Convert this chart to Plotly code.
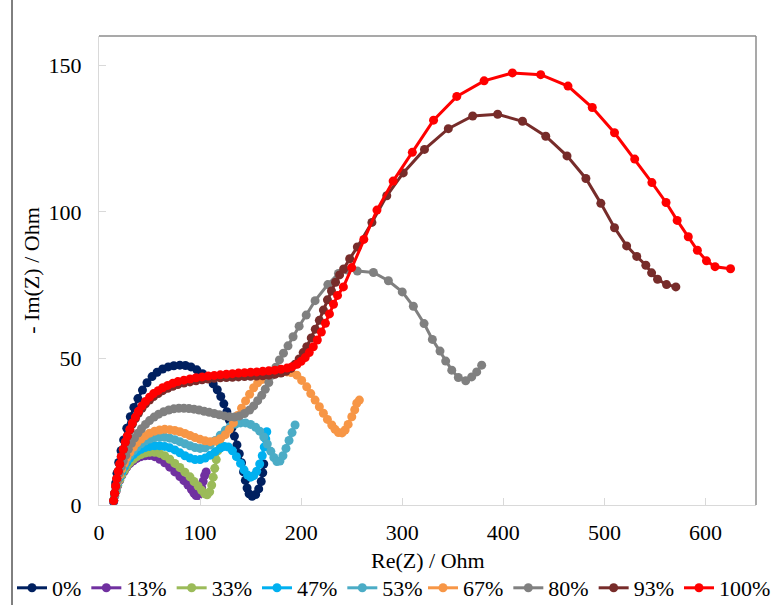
import plotly.graph_objects as go

# Nyquist data: Re(Z) and -Im(Z) in Ohm for each composition
labels = ["0%", "13%", "33%", "47%", "53%", "67%", "80%", "93%", "100%"]
colors = ["#002060", "#7030A0", "#9BBB59", "#00B0F0", "#4BACC6",
          "#F79646", "#808080", "#772C2A", "#FF0000"]

re_0 = [14.4, 15.5, 16.5, 17.8, 19.5, 21.8, 24.4, 27.5, 31, 34.5, 38.5, 43, 47.5, 52.5, 57.5, 63, 68.5, 74, 80,
        85.5, 91, 96.8, 102.5, 108.4, 113, 117, 120.5, 123.5, 126.5, 129, 131.5, 134, 136.5, 138.8, 141, 143,
        144.8, 146.5, 148.5, 151.5, 155, 158, 160.5, 162, 163]
im_0 = [1.1, 4, 7.5, 10.8, 14.5, 18.5, 22.2, 26.2, 30.1, 33.3, 36.3, 39.2, 41.7, 43.8, 45.3, 46.4, 47.1, 47.5, 47.7,
        47.6, 47.1, 46.1, 44.8, 43.2, 41.3, 39.3, 37, 34.5, 31.8, 29, 26.3, 23.5, 20.5, 17.5, 14.4, 11.3,
        8.4, 5.8, 3.8, 3, 3.6, 5.5, 8, 11, 14]

re_13 = [14.5, 15.5, 17, 18.5, 20.5, 22.5, 25, 27.5, 30.5, 34, 37.5, 41.5, 45.5, 50, 55, 60, 65, 70, 75, 80, 84,
         88, 91.5, 94, 96, 98, 100, 101.5, 103, 104.5, 106]
im_13 = [1.2, 3, 4.8, 6.6, 8.4, 10, 11.5, 12.9, 14.1, 15.1, 15.9, 16.5, 16.8, 16.9, 16.5, 15.6, 14.4, 12.9, 11.3,
         9.7, 8.3, 6.8, 5.3, 4, 3.2, 3.2, 4.2, 6, 8, 10, 11.3]

re_33 = [14.5, 15.5, 17, 18.5, 20.5, 22.5, 25, 27.5, 30.5, 34, 37.5, 41.5, 45.5, 50, 55, 60, 65, 70, 75, 80, 85,
         90, 94, 98, 101.5, 104.5, 107, 109.5, 111.5, 113, 114.5, 116, 117.5, 119, 120.5]
im_33 = [1.5, 3.2, 5, 6.8, 8.6, 10.2, 11.8, 13.2, 14.5, 15.6, 16.5, 17.2, 17.7, 18, 18, 17.6, 16.8, 15.6, 14.2,
         12.8, 11.2, 9.6, 8, 6.5, 5, 3.8, 3.5, 4.5, 6.8, 9.5, 12.5, 15.5, 18.5, 21.2, 23]

re_47 = [14.5, 15.5, 17, 18.5, 20.5, 22.5, 25, 27.5, 30.5, 34, 37.5, 41.5, 45.5, 50, 55, 60, 65, 70, 75, 80, 85,
         90, 95, 100, 105, 110, 115, 120, 124, 128, 132, 136, 140, 143.5, 147, 150, 153, 156, 159, 161.5, 163.5,
         165, 166]
im_47 = [1.5, 3.5, 5.5, 7.5, 9.5, 11.3, 13, 14.6, 16, 17.2, 18.2, 19, 19.6, 20, 20.2, 20.2, 20, 19.5, 18.8, 17.8,
         16.8, 16, 15.5, 15.5, 16, 17, 18.2, 19.4, 20, 19.8, 18.5, 16.5, 14.2, 12, 10.2, 9.5, 10, 11.5, 14, 16.8,
         19.8, 22.5, 25]

re_53 = [14.5, 15.5, 17, 18.5, 20.5, 22.5, 25, 27.5, 30.5, 34, 37.5, 41.5, 45.5, 50, 55, 60, 65, 70, 75, 80, 85,
         90, 95, 100, 105, 110, 115, 120, 125, 130, 135, 140, 145, 150, 155, 159, 163, 166.5, 170, 173, 176, 179,
         182, 185, 188, 191, 194]
im_53 = [1.5, 3.5, 5.8, 8, 10, 12, 13.8, 15.5, 17, 18.5, 19.8, 20.9, 21.8, 22.5, 23, 23.2, 23.1, 22.8, 22.3, 21.6,
         20.9, 20.2, 19.6, 19.3, 19.5, 20.5, 22, 23.8, 25.5, 26.8, 27.6, 28, 28, 27.5, 26.5, 25.2, 23.2, 20.8,
         18.3, 16.2, 14.8, 15, 16.8, 19.3, 22, 24.7, 27.3]

re_67 = [14.5, 15.5, 17, 18.5, 20.5, 22.5, 25, 27.5, 30.5, 34, 37.5, 41.5, 45.5, 50, 55, 60, 65, 70, 75, 80, 85,
         90, 95, 100, 105, 110, 115, 120, 125, 129, 133, 137, 141, 145, 149, 153, 157, 161, 166, 171, 176, 181,
         186, 190, 195.7, 200.5, 205.5, 209.5, 213.8, 218, 222, 226, 230.3, 233.5, 236.9, 240.5, 243.5, 246.5,
         250.1, 253, 255, 257.6]
im_67 = [1.5, 3.5, 5.8, 8, 10.2, 12.3, 14.3, 16.2, 18, 19.7, 21.2, 22.5, 23.6, 24.5, 25.2, 25.6, 25.8, 25.7, 25.4,
         25, 24.4, 23.7, 23, 22.4, 21.9, 21.6, 21.8, 22.6, 24, 25.8, 28, 30.5, 33, 35.5, 37.8, 40, 41.7, 42.8,
         43.8, 44.5, 45, 45.3, 45.4, 45.2, 44.3, 42.5, 40.3, 38, 35.8, 33.5, 31.3, 29.2, 27.3, 25.8, 24.7, 24.6,
         25.6, 27.5, 30.1, 32.5, 34.7, 35.8]

re_80 = [14.5, 15.5, 17, 18.5, 20, 22, 24, 26.5, 29, 32, 35, 38.5, 42, 46, 50, 54.5, 59, 64, 69, 74, 79, 84, 89,
         94, 99, 104, 109, 114, 119, 124, 129, 134, 139, 144, 149, 153, 157, 161, 164.5, 168, 171.5, 175, 178.5,
         182.5, 187, 192, 198, 205, 213.8, 226.4, 236.9, 245, 255.6, 271.5, 286.3, 300, 311, 321.6, 329.8,
         337.4, 343, 349, 355.5, 362.8, 368.7, 373.7, 378.6]
im_80 = [1.5, 3.5, 6, 8.5, 10.8, 13, 15, 17, 19, 21, 22.8, 24.5, 26, 27.5, 28.8, 30, 31, 31.8, 32.4, 32.8, 33, 33,
         32.9, 32.7, 32.4, 32, 31.6, 31.2, 30.8, 30.4, 30.1, 30, 30.4, 31.2, 32.4, 33.8, 35.6, 37.4, 39.5, 41.8,
         44.3, 47, 49.5, 51.8, 54.3, 57.4, 61, 64.8, 69.7, 75.2, 79, 80.2, 79.8, 79.3, 76.5, 72.7, 67.8, 61.9,
         56.5, 52.5, 49.1, 46, 43.5, 42.4, 43.7, 45.4, 47.7]

re_93 = [14.5, 15.5, 16.5, 17.5, 19, 20.5, 22, 24, 26, 28, 30.5, 33, 36, 39, 42.5, 46, 50, 54, 58.5, 63, 68, 73,
         78, 84, 90, 96, 102, 108, 114, 120, 126, 132, 138, 144, 150, 156, 162, 168, 174, 180, 185, 190, 194,
         198, 202, 205.6, 210, 214, 218, 222, 226, 230, 234, 238, 242, 248, 255.6, 270, 284.7, 301, 322, 345.6,
         369.7, 394.4, 419, 442, 463, 481.7, 496.5, 510, 522, 532, 541, 546.7, 552.6, 561.5, 570.7]
im_93 = [1.5, 4, 6.5, 9, 11.5, 14, 16.5, 19, 21.5, 23.5, 25.6, 27.6, 29.5, 31.3, 33, 34.5, 35.8, 37, 38, 39, 39.8,
         40.5, 41.1, 41.6, 42, 42.4, 42.7, 43, 43.2, 43.4, 43.5, 43.6, 43.7, 43.8, 43.9, 44, 44.1, 44.3, 44.6,
         45, 45.6, 46.6, 48, 49.8, 52, 54, 57, 60, 63, 66.5, 70, 73, 76, 78.5, 80.5, 84, 88, 96.4, 105.5, 113.3,
         121.3, 128.4, 132.7, 133.3, 130.9, 125.8, 119.1, 111.4, 102.9, 94.6, 88.4, 84.8, 81.8, 79.2, 77, 75.2,
         74.4]

re_100 = [14.5, 15.5, 16.5, 17.5, 19, 20.5, 22, 24, 26, 28, 30.5, 33, 36, 39, 42.5, 46, 50, 54, 58.5, 63, 68, 73,
          78, 84, 90, 96, 102, 108, 114, 120, 126, 132, 138, 144, 150, 156, 162, 168, 174, 180, 186, 191, 196,
          200, 204, 208, 212, 216, 220, 224, 228, 232, 236, 241.8, 250, 262, 275, 291, 310, 331, 354, 381, 409,
          437, 464, 488, 510, 530, 547, 561, 572, 583, 592, 601, 609.5, 624.8]
im_100 = [1.5, 4, 6.5, 9, 11.5, 14, 16.5, 19, 21.5, 23.5, 25.8, 28, 30, 32, 33.8, 35.3, 36.8, 38, 39, 40, 40.8,
          41.5, 42.1, 42.6, 43, 43.4, 43.7, 44, 44.2, 44.4, 44.6, 44.8, 45, 45.1, 45.3, 45.4, 45.6, 45.8, 46,
          46.3, 46.7, 47.2, 48, 49, 50.3, 52, 54, 56.3, 59, 62, 65.2, 68.5, 71.5, 74.4, 81, 90.6, 100.6, 110.5,
          120.3, 131.3, 139.4, 144.7, 147.4, 146.8, 142.9, 135.6, 127, 118, 110, 103.2, 97.1, 91.5, 86.9, 83.3,
          81.3, 80.6]

re_series = [re_0, re_13, re_33, re_47, re_53, re_67, re_80, re_93, re_100]
im_series = [im_0, im_13, im_33, im_47, im_53, im_67, im_80, im_93, im_100]

x_ticks = [0, 100, 200, 300, 400, 500, 600]
y_ticks = [0, 50, 100, 150]

FONT = "Liberation Serif"
AXIS_GREY = "#d9d9d9"
FRAME_GREY = "#8c8c8c"
FIG_W, FIG_H = 782, 605

# plot area in pixels: x 99..756, y 36..505
PLOT_W = 657
PLOT_H = 469

fig = go.Figure()
for i, (name, color, xs, ys) in enumerate(zip(labels, colors, re_series, im_series)):
    fig.add_trace(go.Scatter(
        x=xs, y=ys, name=name, mode="lines+markers",
        line=dict(color=color, width=3),
        marker=dict(color=color, size=9),
        # the legend row is split over two legend boxes laid side by side
        legend="legend" if i < 5 else "legend2",
    ))

legend_common = dict(
    orientation="h", xref="container", yref="container",
    xanchor="left", y=17 / FIG_H, yanchor="middle",
    bgcolor="rgba(0,0,0,0)",
    font=dict(family=FONT, size=22, color="black"),
    itemclick=False, tracegroupgap=0,
)

fig.update_layout(
    width=FIG_W, height=FIG_H,
    margin=dict(l=99, r=26, t=36, b=100),
    paper_bgcolor="white", plot_bgcolor="white",
    font=dict(family=FONT, size=22, color="black"),
    showlegend=True,
    legend=dict(x=12 / FIG_W, **legend_common),
    legend2=dict(x=423 / FIG_W, **legend_common),
    xaxis=dict(
        range=[0, 650], tickvals=x_ticks, ticktext=[str(v) for v in x_ticks],
        showgrid=False, zeroline=False, automargin=False,
        showline=True, linecolor=AXIS_GREY, linewidth=1,
        ticks="inside", ticklen=7, tickcolor=AXIS_GREY,
        ticklabelstandoff=8,
        tickfont=dict(family=FONT, size=22, color="black"),
    ),
    yaxis=dict(
        range=[0, 160], tickvals=y_ticks, ticktext=[str(v) for v in y_ticks],
        showgrid=False, zeroline=False, automargin=False,
        showline=True, linecolor=AXIS_GREY, linewidth=1,
        ticks="inside", ticklen=7, tickcolor=AXIS_GREY,
        ticklabelstandoff=12,
        tickfont=dict(family=FONT, size=22, color="black"),
        title=dict(text="- Im(Z) / Ohm", standoff=2,
                   font=dict(family=FONT, size=22, color="black")),
    ),
)

# x-axis title sits just under the tick labels
fig.add_annotation(
    text="Re(Z) / Ohm", xref="paper", yref="paper",
    x=0.5, y=-55 / PLOT_H, xanchor="center", yanchor="middle",
    showarrow=False, font=dict(family=FONT, size=22, color="black"),
)

# plot-area frame on the top and right edges
fig.add_shape(type="line", xref="paper", yref="paper", x0=0, x1=1, y0=1, y1=1,
              line=dict(color=FRAME_GREY, width=1.5))
fig.add_shape(type="line", xref="paper", yref="paper", x0=1, x1=1, y0=0, y1=1,
              line=dict(color=FRAME_GREY, width=1.5))

# outer chart border (left edge)
fig.add_shape(type="line", xref="paper", yref="paper",
              x0=-87 / PLOT_W, x1=-87 / PLOT_W, y0=-100 / PLOT_H, y1=36 / PLOT_H + 1,
              line=dict(color="black", width=1))

fig.write_html("out.html")
